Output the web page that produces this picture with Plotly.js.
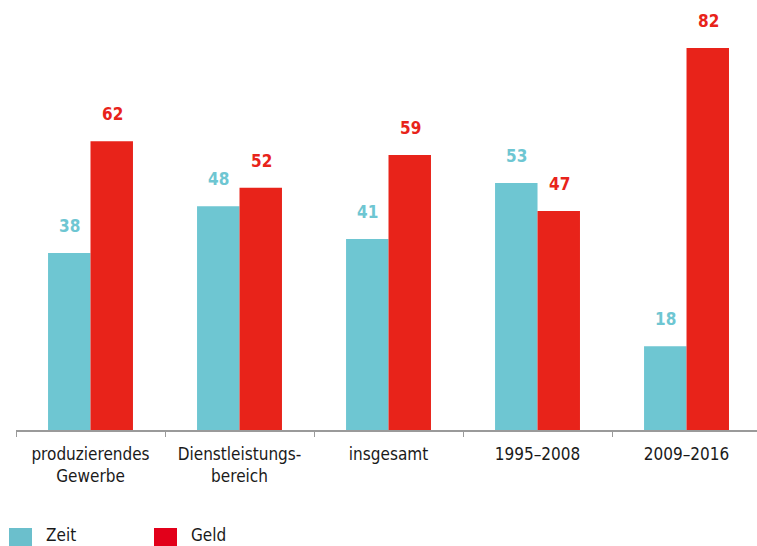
<!DOCTYPE html>
<html><head><meta charset="utf-8">
<script src="https://cdn.plot.ly/plotly-3.0.1.min.js"></script>
<style>html,body{margin:0;padding:0;background:#fff;}#chart{width:757px;height:546px;}</style>
</head><body><div id="chart"></div>
<script>
const categories = ["produzierendes<br>Gewerbe", "Dienstleistungs-<br>bereich", "insgesamt", "1995–2008", "2009–2016"];
const zeitValues = [38, 48, 41, 53, 18];
const geldValues = [62, 52, 59, 47, 82];
const seriesNames = ["Zeit", "Geld"];
const barColors = ["#6EC6D2", "#E8231A"];
const legendColors = ["#6BBFCC", "#E2001A"];

const FONT = '"Liberation Sans Narrow", "Arial Narrow", "DejaVu Sans Condensed", "Roboto", sans-serif';

const traces = [
  {type: 'bar', name: seriesNames[0], x: categories, y: zeitValues, marker: {color: barColors[0]}, hoverinfo: 'none'},
  {type: 'bar', name: seriesNames[1], x: categories, y: geldValues, marker: {color: barColors[1]}, hoverinfo: 'none'}
];

const annotations = [];
[zeitValues, geldValues].forEach((vals, s) => {
  vals.forEach((v, i) => {
    annotations.push({
      x: categories[i], y: v, xref: 'x', yref: 'y',
      text: '<b>' + v + '</b>', showarrow: false,
      xshift: s === 0 ? -21.5 : 21.5, yshift: 15, yanchor: 'bottom',
      font: {family: '"DejaVu Sans Condensed", "Liberation Sans Narrow", sans-serif', size: 17, color: barColors[s]}
    });
  });
});

// custom legend
const shapes = [];
const legendX = [9, 154];
seriesNames.forEach((n, s) => {
  shapes.push({type: 'rect', xref: 'paper', yref: 'paper', layer: 'above',
    x0: (legendX[s] - 16) / 741, x1: (legendX[s] + 23 - 16) / 741,
    y0: (430 - 546) / 410, y1: (430 - 528) / 410,
    fillcolor: legendColors[s], line: {width: 0}});
  annotations.push({xref: 'paper', yref: 'paper', x: (legendX[s] + 35 - 16) / 741, y: (430 - 535) / 410,
    xanchor: 'left', yanchor: 'middle', showarrow: false, text: n,
    font: {family: FONT, size: 17, color: '#1a1a1a'}});
});

const layout = {
  width: 757, height: 546,
  margin: {l: 16, r: 0, t: 20, b: 116},
  paper_bgcolor: '#fff', plot_bgcolor: '#fff',
  barmode: 'group', bargap: 0.43, bargroupgap: 0,
  showlegend: false,
  xaxis: {
    type: 'category', range: [-0.5, 4.473],
    showline: true, linecolor: '#9a9a9a', linewidth: 1.5,
    ticks: 'outside', tickson: 'boundaries', ticklen: 5, tickcolor: '#9a9a9a', tickwidth: 1,
    ticklabelstandoff: 8,
    tickfont: {family: FONT, size: 17, color: '#1a1a1a'},
    showgrid: false, zeroline: false, fixedrange: true
  },
  yaxis: {range: [0, 88], visible: false, showgrid: false, zeroline: false, fixedrange: true},
  annotations: annotations,
  shapes: shapes
};

Plotly.newPlot('chart', traces, layout, {displayModeBar: false, staticPlot: true});
</script></body></html>
